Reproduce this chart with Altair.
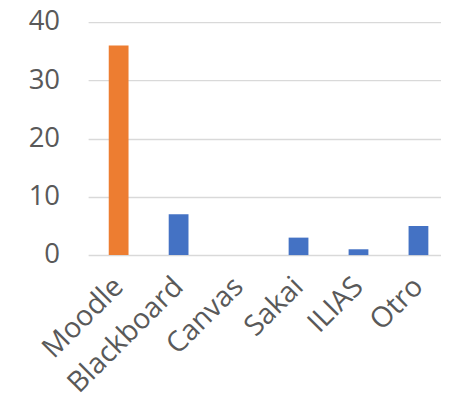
import altair as alt
import pandas as pd

categories = ["Moodle", "Blackboard", "Canvas", "Sakai", "ILIAS", "Otro"]
values = [36, 7, 0, 3, 1, 5]
colors = ["#ED7D31", "#4472C4", "#4472C4", "#4472C4", "#4472C4", "#4472C4"]

df = pd.DataFrame({"cat": categories, "val": values, "color": colors})

FONT = "Open Sans"

chart = alt.Chart(df).mark_bar().encode(
    x=alt.X("cat:N", sort=categories, title=None,
            scale=alt.Scale(paddingInner=0.67, paddingOuter=0.2775, align=0.62),
            axis=alt.Axis(labelAngle=-45, labelAlign="right", labelBaseline="middle",
                          labelFont=FONT, labelFontSize=29, labelColor="#595959",
                          labelPadding=27, ticks=False, domain=False, grid=False)),
    y=alt.Y("val:Q", title=None,
            scale=alt.Scale(domain=[0, 40]),
            axis=alt.Axis(values=[0, 10, 20, 30, 40], labelFont=FONT, labelFontSize=28,
                          labelColor="#595959", labelPadding=29, ticks=False, domain=False,
                          gridColor="#D9D9D9", gridWidth=1.5)),
    color=alt.Color("color:N", scale=None),
).properties(
    width=359, height=237,
    autosize=alt.AutoSizeParams(type="none"),
    padding={"left": 81.5, "top": 11, "right": 0, "bottom": 142},
).configure_view(stroke=None)

chart.save("out.html", embed_options={"renderer": "svg", "actions": False})
